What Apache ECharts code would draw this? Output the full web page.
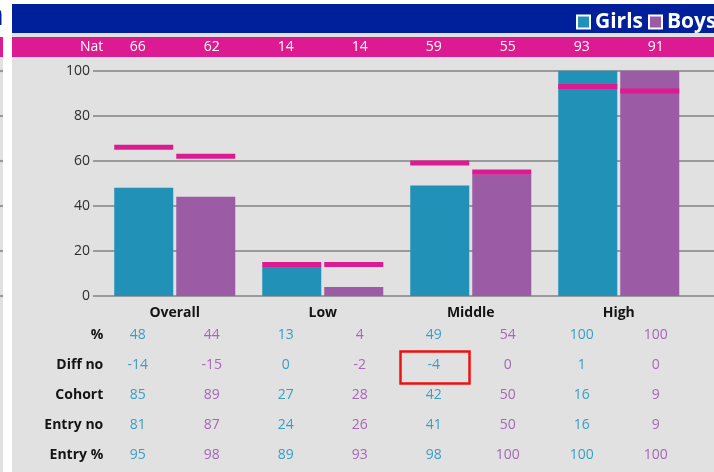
<!DOCTYPE html>
<html>
<head>
<meta charset="utf-8">
<script src="https://cdn.jsdelivr.net/npm/echarts@6/dist/echarts.min.js"></script>
<style>
  html, body { margin: 0; padding: 0; background: #ffffff; }
  #chart { width: 714px; height: 472px; }
</style>
</head>
<body>
<div id="chart"></div>
<script>
// Attainment by prior-attainment band, girls vs boys, with national comparison
const groups = ['Overall', 'Low', 'Middle', 'High'];
const seriesNames = ['Girls', 'Boys'];

const pctGirls = [48, 13, 49, 100];
const pctBoys = [44, 4, 54, 100];
const natGirls = [66, 14, 59, 93];
const natBoys = [62, 14, 55, 91];

const diffGirls = [-14, 0, -4, 1];
const diffBoys = [-15, -2, 0, 0];
const cohortGirls = [85, 27, 42, 16];
const cohortBoys = [89, 28, 50, 9];
const entryNoGirls = [81, 24, 41, 16];
const entryNoBoys = [87, 26, 50, 9];
const entryPctGirls = [95, 89, 98, 100];
const entryPctBoys = [98, 93, 100, 100];

const yTicks = [0, 20, 40, 60, 80, 100];

const tableRows = [
  { name: '%', girls: pctGirls, boys: pctBoys },
  { name: 'Diff no', girls: diffGirls, boys: diffBoys },
  { name: 'Cohort', girls: cohortGirls, boys: cohortBoys },
  { name: 'Entry no', girls: entryNoGirls, boys: entryNoBoys },
  { name: 'Entry %', girls: entryPctGirls, boys: entryPctBoys }
];

const C = {
  girls: '#2191b7',
  boys: '#9b5ba5',
  girlsText: '#3a9ec4',
  boysText: '#a767b5',
  nat: '#dc1a91',
  navy: '#00209b',
  panel: '#e1e1e1',
  grid: '#9a9a9a',
  ink: '#141414'
};
const FONT = '"Open Sans", "Noto Sans", sans-serif';

// girls/boys interleaved into 8 columns
function interleave(a, b) {
  const out = [];
  a.forEach((v, i) => { out.push(a[i], b[i]); });
  return out;
}
const colIds = interleave(groups, groups).map((g, i) => g + '-' + i);

const BAR_W = 59;
const BAR_GAP = (3 / 59 * 100).toFixed(1) + '%';
const GRID_TOP = 70.7;
const GRID_BOTTOM = 176;
const BOTTOM_Y = 472 - GRID_BOTTOM;
const ROW_Y0 = 335;
const ROW_STEP = 30;

function rowAxis(vals, name, offset, position, nameColor, nameWeight, valueColorFn) {
  return {
    type: 'category',
    gridIndex: 0,
    position: position,
    offset: offset,
    data: colIds,
    axisLine: { show: false },
    axisTick: { show: false },
    splitLine: { show: false },
    axisLabel: {
      interval: 0,
      margin: 0,
      verticalAlign: 'middle',
      fontFamily: FONT,
      fontSize: 14,
      color: valueColorFn,
      formatter: (v, i) => String(vals[i])
    },
    name: name,
    nameLocation: 'start',
    nameGap: -2.5,
    nameTextStyle: {
      fontFamily: FONT,
      fontSize: 14,
      fontWeight: nameWeight,
      color: nameColor,
      align: 'right',
      verticalAlign: 'middle'
    }
  };
}

const xAxes = [
  {
    type: 'category',
    gridIndex: 0,
    data: groups,
    axisLine: { show: false },
    axisTick: { show: false },
    axisLabel: {
      margin: 17,
      verticalAlign: 'middle',
      fontFamily: FONT,
      fontSize: 14,
      fontWeight: 'bold',
      color: C.ink
    }
  },
  rowAxis(interleave(natGirls, natBoys), 'Nat', GRID_TOP - 47, 'top', '#ffffff', 'normal', () => '#ffffff')
];
tableRows.forEach((r, k) => {
  xAxes.push(rowAxis(
    interleave(r.girls, r.boys), r.name,
    ROW_Y0 + k * ROW_STEP - BOTTOM_Y, 'bottom', C.ink, 'bold',
    (v, i) => (i % 2 ? C.boysText : C.girlsText)
  ));
});
// value axes for the gridline layer and the neighbouring strip
xAxes.push({ type: 'value', gridIndex: 1, show: false, min: 0, max: 1 });
xAxes.push({ type: 'value', gridIndex: 2, show: false, min: 0, max: 1 });

const option = {
  animation: false,
  backgroundColor: '#ffffff',
  textStyle: { fontFamily: FONT },
  graphic: {
    elements: [
      // neighbouring panel edge
      { type: 'rect', z: -100, shape: { x: 0, y: 57, width: 3, height: 415 }, style: { fill: C.panel } },
      { type: 'rect', z: -100, shape: { x: 0, y: 37, width: 3, height: 20 }, style: { fill: C.nat } },
      { type: 'text', z: -99, x: -16, y: 1, style: { text: 'n', font: 'bold 30px ' + FONT, fill: C.navy } },
      { type: 'rect', z: -98, shape: { x: 3, y: 0, width: 9, height: 472 }, style: { fill: '#ffffff' } },
      // main panel
      { type: 'rect', z: -100, shape: { x: 12, y: 33, width: 702, height: 439 }, style: { fill: C.panel } },
      { type: 'rect', z: -100, shape: { x: 12, y: 4, width: 702, height: 29 }, style: { fill: C.navy } },
      { type: 'rect', z: -100, shape: { x: 12, y: 37, width: 702, height: 20 }, style: { fill: C.nat } },
      // highlighted cell
      { type: 'rect', z: 100, shape: { x: 400.5, y: 351.5, width: 69, height: 32 },
        style: { fill: 'none', stroke: '#ee1111', lineWidth: 2.5 } }
    ]
  },
  legend: {
    data: seriesNames,
    orient: 'horizontal',
    left: 571,
    top: 6,
    width: 300,
    icon: 'rect',
    itemWidth: 13,
    itemHeight: 13,
    itemGap: 5,
    itemStyle: { borderColor: '#ffffff', borderWidth: 2 },
    textStyle: { color: '#ffffff', fontFamily: FONT, fontSize: 21, fontWeight: 'bold', lineHeight: 22 }
  },
  grid: [
    { left: 100.75, right: 21.25, top: GRID_TOP, bottom: GRID_BOTTOM },
    { left: 93, right: -10, top: GRID_TOP, bottom: GRID_BOTTOM },
    { left: 0, width: 3, top: GRID_TOP, bottom: GRID_BOTTOM }
  ],
  xAxis: xAxes,
  yAxis: [
    { type: 'value', gridIndex: 0, min: 0, max: 100, interval: 20, show: false },
    {
      type: 'value', gridIndex: 1, min: yTicks[0], max: yTicks[yTicks.length - 1], interval: 20,
      axisLine: { show: false },
      axisTick: { show: false },
      axisLabel: { margin: 3, fontFamily: FONT, fontSize: 14, color: '#2e2e2e' },
      splitLine: { lineStyle: { color: C.grid, width: 2.2 } }
    },
    {
      type: 'value', gridIndex: 2, min: 0, max: 100, interval: 20,
      axisLine: { show: false }, axisTick: { show: false }, axisLabel: { show: false },
      splitLine: { lineStyle: { color: C.grid, width: 2.2 } }
    }
  ],
  series: [
    {
      name: 'Girls', type: 'bar', xAxisIndex: 0, yAxisIndex: 0,
      barWidth: BAR_W, barGap: BAR_GAP, z: 2,
      itemStyle: { color: C.girls }, data: pctGirls
    },
    {
      name: 'Boys', type: 'bar', xAxisIndex: 0, yAxisIndex: 0,
      barWidth: BAR_W, barGap: BAR_GAP, z: 2,
      itemStyle: { color: C.boys }, data: pctBoys
    },
    {
      name: 'Nat Girls', type: 'pictorialBar', xAxisIndex: 0, yAxisIndex: 0,
      barWidth: BAR_W, barGap: BAR_GAP, z: 5,
      symbol: 'rect', symbolSize: [BAR_W, 5], symbolPosition: 'end', symbolOffset: [0, '-50%'],
      itemStyle: { color: C.nat }, data: natGirls
    },
    {
      name: 'Nat Boys', type: 'pictorialBar', xAxisIndex: 0, yAxisIndex: 0,
      barWidth: BAR_W, barGap: BAR_GAP, z: 5,
      symbol: 'rect', symbolSize: [BAR_W, 5], symbolPosition: 'end', symbolOffset: [0, '-50%'],
      itemStyle: { color: C.nat }, data: natBoys
    }
  ]
};

const chart = echarts.init(document.getElementById('chart'), null, { renderer: 'canvas' });
chart.setOption(option);
</script>
</body>
</html>
